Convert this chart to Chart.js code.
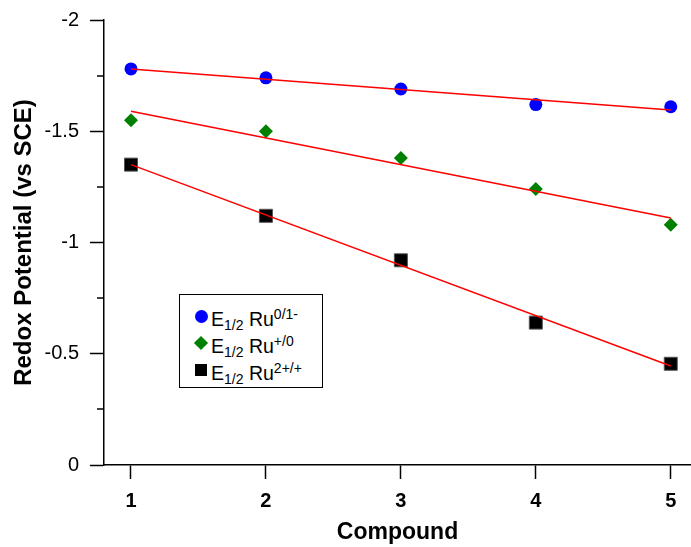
<!DOCTYPE html>
<html>
<head>
<meta charset="utf-8">
<script src="https://cdn.jsdelivr.net/npm/chart.js@4/dist/chart.umd.min.js"></script>
<style>
  html, body { margin: 0; padding: 0; background: #fff; }
  #wrap { position: relative; width: 691px; height: 547px; }
  #legend { position: absolute; left: 179px; top: 294px; width: 142px; height: 92px;
    border: 1px solid #000; background: #fff; font-family: "Liberation Sans", Arial, sans-serif;
    font-size: 19.5px; color: #000; }
  .row { position: absolute; left: 0; height: 18px; line-height: 18px; white-space: nowrap; }
  .txt { position: absolute; left: 31px; top: 0; }
  .sub, .sup { font-size: 14px; position: relative; line-height: 0; }
  .sub { top: 4px; }
  .sup { top: -7px; }
  .mk { position: absolute; }
</style>
</head>
<body>
<div id="wrap">
  <canvas id="c" width="691" height="547"></canvas>
  <div id="legend"></div>
</div>
<script>
// ---- data ----
const compounds = [1, 2, 3, 4, 5];
const ru01 = [-1.78, -1.74, -1.69, -1.62, -1.61];     // E1/2 Ru0/1-
const ruP0 = [-1.55, -1.50, -1.38, -1.24, -1.08];     // E1/2 Ru+/0
const ru2P = [-1.35, -1.12, -0.92, -0.64, -0.455];    // E1/2 Ru2+/+
// linear fit end points at compound 1 and 5
const fitX = [1, 5];
const fit01 = [-1.78, -1.595];
const fitP0 = [-1.59, -1.11];
const fit2P = [-1.35, -0.445];
// tick labels
const xTicks = [1, 2, 3, 4, 5];
const xTickLabels = ['1', '2', '3', '4', '5'];
const yTicks = [-2, -1.5, -1, -0.5, 0];
const yTickLabels = ['-2', '-1.5', '-1', '-0.5', '0'];
const yMinorTicks = [-1.75, -1.25, -0.75, -0.25];
// legend text
const legendBase = ['E', 'E', 'E'];
const legendSub = ['1/2', '1/2', '1/2'];
const legendMain = [' Ru', ' Ru', ' Ru'];
const legendSup = ['0/1-', '+/0', '2+/+'];

const pts = (ys) => compounds.map((x, i) => ({ x: x, y: ys[i] }));
const fitPts = (ys) => fitX.map((x, i) => ({ x: x, y: ys[i] }));

const minorTicksPlugin = {
  id: 'minorTicks',
  afterDraw(chart) {
    const s = chart.scales.y;
    const ctx = chart.ctx;
    ctx.save();
    ctx.strokeStyle = '#000';
    ctx.lineWidth = 1.5;
    yMinorTicks.forEach(v => {
      const p = Math.round(s.getPixelForValue(v));
      ctx.beginPath();
      ctx.moveTo(s.right - 7, p);
      ctx.lineTo(s.right, p);
      ctx.stroke();
    });
    ctx.restore();
  }
};

const font = "'Liberation Sans', Arial, Helvetica, sans-serif";

new Chart(document.getElementById('c'), {
  type: 'scatter',
  data: {
    datasets: [
      { label: 'fit Ru0/1-', data: fitPts(fit01), showLine: true, borderColor: '#ff0000', borderWidth: 1.5, pointRadius: 0, order: 0 },
      { label: 'fit Ru+/0', data: fitPts(fitP0), showLine: true, borderColor: '#ff0000', borderWidth: 1.5, pointRadius: 0, order: 0 },
      { label: 'fit Ru2+/+', data: fitPts(fit2P), showLine: true, borderColor: '#ff0000', borderWidth: 1.5, pointRadius: 0, order: 0 },
      { label: 'E1/2 Ru0/1-', data: pts(ru01), pointStyle: 'circle', pointRadius: 6.5, backgroundColor: '#0000ff', borderColor: '#0000ff', borderWidth: 0, order: 1 },
      { label: 'E1/2 Ru+/0', data: pts(ruP0), pointStyle: 'rectRot', pointRadius: 7, backgroundColor: '#008000', borderColor: '#008000', borderWidth: 0, order: 1 },
      { label: 'E1/2 Ru2+/+', data: pts(ru2P), pointStyle: 'rect', pointRadius: 9.2, backgroundColor: '#000000', borderColor: '#555555', borderWidth: 1, order: 1 }
    ]
  },
  options: {
    responsive: false,
    devicePixelRatio: 1,
    animation: false,
    layout: { autoPadding: false, padding: { top: 20, right: 0, bottom: 0, left: 0 } },
    plugins: { legend: { display: false }, tooltip: { enabled: false } },
    scales: {
      x: {
        type: 'linear', min: 0.8, max: 5.15,
        afterBuildTicks: (s) => { s.ticks = xTicks.map(v => ({ value: v })); },
        afterFit: (s) => { s.height = 82; s.paddingLeft = 0; s.paddingRight = 0; },
        grid: { drawOnChartArea: false, drawTicks: true, tickLength: 14, tickColor: '#000', tickWidth: 1.5 },
        border: { display: true, color: '#000', width: 1.5 },
        ticks: { color: '#000', padding: 10, font: { family: font, size: 20, weight: 'bold' },
                 callback: (v) => xTickLabels[xTicks.indexOf(v)] },
        title: { display: true, text: 'Compound', color: '#000', padding: { top: 2, bottom: 1 },
                 font: { family: font, size: 23, weight: 'bold' } }
      },
      y: {
        type: 'linear', min: -2, max: 0, reverse: true,
        afterBuildTicks: (s) => { s.ticks = yTicks.map(v => ({ value: v })); },
        afterFit: (s) => { s.width = 104; s.paddingTop = 0; s.paddingBottom = 0; },
        grid: { drawOnChartArea: false, drawTicks: true, tickLength: 14, tickColor: '#000', tickWidth: 1.5 },
        border: { display: true, color: '#000', width: 1.5 },
        ticks: { color: '#000', padding: 11, font: { family: font, size: 20 },
                 callback: (v) => yTickLabels[yTicks.indexOf(v)] },
        title: { display: true, text: 'Redox Potential (vs SCE)', color: '#000', padding: { top: 10, bottom: 0 },
                 font: { family: font, size: 24, weight: 'bold' } }
      }
    }
  },
  plugins: [minorTicksPlugin]
});

// ---- legend (HTML so sub/superscripts stay real text) ----
const legendColors = ['#0000ff', '#008000', '#000000'];
const legendShapes = ['circle', 'diamond', 'square'];
const leg = document.getElementById('legend');
for (let i = 0; i < 3; i++) {
  const top = 15 + 27 * i;
  const row = document.createElement('div');
  row.className = 'row';
  row.style.top = top + 'px';
  row.style.width = '140px';
  const mk = document.createElement('div');
  mk.className = 'mk';
  const cx = 21, cy = 6;
  let size;
  if (legendShapes[i] === 'circle') {
    size = 13;
    mk.style.borderRadius = '50%';
  } else if (legendShapes[i] === 'diamond') {
    size = 10;
    mk.style.transform = 'rotate(45deg)';
  } else {
    size = 12;
  }
  mk.style.width = size + 'px';
  mk.style.height = size + 'px';
  mk.style.left = (cx - size / 2) + 'px';
  mk.style.top = (cy - size / 2) + 'px';
  mk.style.background = legendColors[i];
  row.appendChild(mk);
  const t = document.createElement('span');
  t.className = 'txt';
  t.innerHTML = legendBase[i] + '<span class="sub">' + legendSub[i] + '</span>' + legendMain[i] +
                '<span class="sup">' + legendSup[i] + '</span>';
  row.appendChild(t);
  leg.appendChild(row);
}
</script>
</body>
</html>
